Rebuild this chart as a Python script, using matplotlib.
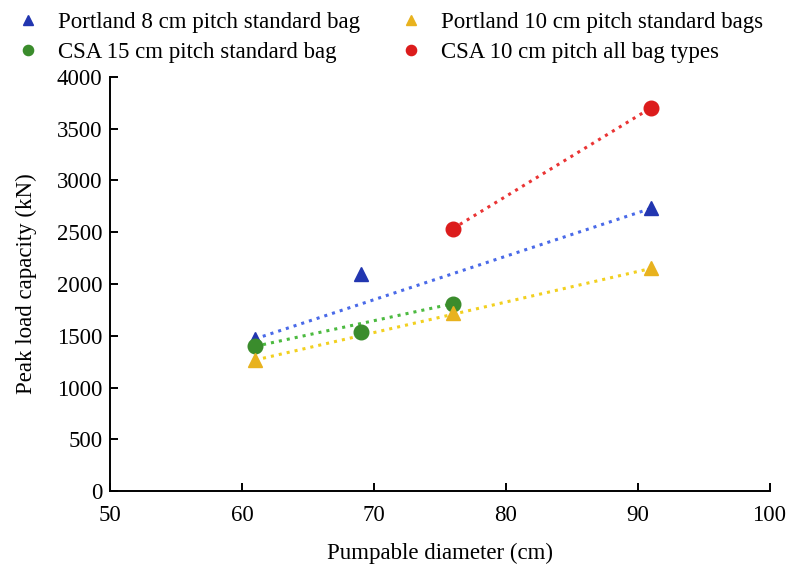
import numpy as np
import matplotlib
matplotlib.use("Agg")
import matplotlib.pyplot as plt

plt.rcParams['font.family'] = ['Liberation Serif', 'DejaVu Serif']

# Peak load capacity (kN) against pumpable diameter (cm)
portland8_x = [61, 69, 91]
portland8_y = [1470, 2100, 2730]

portland10_x = [61, 76, 91]
portland10_y = [1265, 1720, 2150]

csa15_x = [61, 69, 76]
csa15_y = [1398, 1540, 1810]

csa10_x = [76, 91]
csa10_y = [2535, 3700]

series = [
    ("Portland 8 cm pitch standard bag", portland8_x, portland8_y, '^', '#2236b0', '#4a6ae8'),
    ("CSA 15 cm pitch standard bag", csa15_x, csa15_y, 'o', '#3a8c2c', '#4cba40'),
    ("Portland 10 cm pitch standard bags", portland10_x, portland10_y, '^', '#e8b21e', '#f2d020'),
    ("CSA 10 cm pitch all bag types", csa10_x, csa10_y, 'o', '#dc1c1c', '#ea3434'),
]

fig = plt.figure(figsize=(7.87, 5.68), dpi=100)
ax = fig.add_axes([0.1398, 0.1355, 0.838, 0.729])

handles = []
for label, xs, ys, mk, mc, lc in series:
    # trend line joining the end points of each series
    ax.plot([xs[0], xs[-1]], [ys[0], ys[-1]], ls=':', lw=2.2, color=lc, zorder=2)
for label, xs, ys, mk, mc, lc in series:
    h, = ax.plot(xs, ys, ls='none', marker=mk, ms=10.5, color=mc, mec=mc, zorder=3, label=label)
    handles.append(h)

ax.set_xlim(50, 100)
ax.set_ylim(0, 4000)
ax.set_xticks(np.arange(50, 101, 10))
ax.set_yticks(np.arange(0, 4001, 500))
ax.spines['top'].set_visible(False)
ax.spines['right'].set_visible(False)
for s in ['left', 'bottom']:
    ax.spines[s].set_linewidth(1.4)
ax.tick_params(direction='in', length=6, width=1.4, labelsize=16.5)
ax.tick_params(axis='y', pad=5.5)
ax.tick_params(axis='x', pad=10)
ax.set_xlabel("Pumpable diameter (cm)", fontsize=16.5, labelpad=12.5)
ax.set_ylabel("Peak load capacity (kN)", fontsize=16.5, labelpad=14)

fig.legend(handles=handles, loc='upper left', bbox_to_anchor=(0.0152, 0.9947), ncol=2,
           frameon=False, fontsize=16.5, markerscale=0.7, handlelength=0.6,
           handletextpad=1.0, columnspacing=1.95, labelspacing=0.4,
           borderaxespad=0.0)

fig.savefig("out.png", dpi=100)
